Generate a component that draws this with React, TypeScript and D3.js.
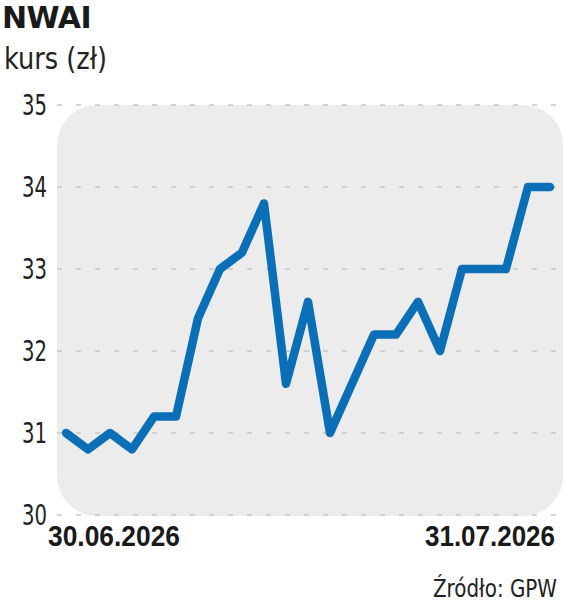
import React, { useEffect, useRef } from 'react';
import * as d3 from 'd3';

// NWAI closing price (zł), one value per session
const prices = [31.0, 30.8, 31.0, 30.8, 31.2, 31.2, 32.4, 33.0, 33.2, 33.8, 31.6, 32.6, 31.0, 31.6, 32.2, 32.2, 32.6, 32.0, 33.0, 33.0, 33.0, 34.0, 34.0];
const yTicks = [30, 31, 32, 33, 34, 35];
const xTickLabels = ['30.06.2026', '31.07.2026'];

const W = 564;
const H = 601;

const App: React.FC = () => {
  const svgRef = useRef<SVGSVGElement>(null);

  useEffect(() => {
    document.body.style.margin = '0';
    if (!svgRef.current) return;

    const svg = d3.select(svgRef.current);
    svg.selectAll('*').remove();

    const plot = { left: 57, right: 563, top: 105, bottom: 515 };
    const lightFont = '"DejaVu Sans Condensed", "DejaVu Sans", sans-serif';
    const boldFont = '"Liberation Sans", Arial, sans-serif';

    const x = d3.scaleLinear()
      .domain([0, prices.length - 1])
      .range([66, 550]);

    const y = d3.scaleLinear()
      .domain([30, 35])
      .range([plot.bottom, plot.top]);

    // title
    svg.append('text')
      .attr('x', 2)
      .attr('y', 28)
      .attr('font-family', '"DejaVu Sans", sans-serif')
      .attr('font-weight', 'bold')
      .attr('font-size', 30)
      .attr('letter-spacing', -0.5)
      .attr('fill', '#1a1a1a')
      .text('NWAI');

    svg.append('text')
      .attr('x', 4)
      .attr('y', 69)
      .attr('font-family', lightFont)
      .attr('font-size', 31)
      .attr('textLength', 103)
      .attr('lengthAdjust', 'spacingAndGlyphs')
      .attr('fill', '#222')
      .text('kurs (zł)');

    // grey plot background
    svg.append('rect')
      .attr('x', plot.left)
      .attr('y', plot.top)
      .attr('width', plot.right - plot.left)
      .attr('height', plot.bottom - plot.top + 1)
      .attr('rx', 40)
      .attr('fill', '#ececec');

    // dashed gridlines
    svg.append('g')
      .selectAll('line')
      .data(yTicks)
      .join('line')
      .attr('x1', plot.left)
      .attr('x2', W)
      .attr('y1', d => y(d))
      .attr('y2', d => y(d))
      .attr('stroke', '#c6c6c6')
      .attr('stroke-width', 1.5)
      .attr('stroke-dasharray', '5,14');

    // y labels
    svg.append('g')
      .selectAll('text')
      .data(yTicks)
      .join('text')
      .attr('x', 47)
      .attr('y', d => y(d))
      .attr('dy', '0.36em')
      .attr('text-anchor', 'end')
      .attr('font-family', lightFont)
      .attr('font-size', 29)
      .attr('textLength', 25)
      .attr('lengthAdjust', 'spacingAndGlyphs')
      .attr('fill', '#222')
      .text(d => d);

    // price line
    const line = d3.line<number>()
      .x((_, i) => x(i))
      .y(d => y(d));

    svg.append('path')
      .datum(prices)
      .attr('d', line)
      .attr('fill', 'none')
      .attr('stroke', '#0a6fb7')
      .attr('stroke-width', 8.5)
      .attr('stroke-linejoin', 'round')
      .attr('stroke-linecap', 'round');

    // x labels (first and last session)
    svg.append('text')
      .attr('x', x(0) - 18)
      .attr('y', 546)
      .attr('font-family', boldFont)
      .attr('font-weight', 'bold')
      .attr('font-size', 30)
      .attr('textLength', 132)
      .attr('lengthAdjust', 'spacingAndGlyphs')
      .attr('fill', '#1a1a1a')
      .text(xTickLabels[0]);

    svg.append('text')
      .attr('x', x(prices.length - 1) + 5)
      .attr('y', 546)
      .attr('text-anchor', 'end')
      .attr('font-family', boldFont)
      .attr('font-weight', 'bold')
      .attr('font-size', 30)
      .attr('textLength', 130)
      .attr('lengthAdjust', 'spacingAndGlyphs')
      .attr('fill', '#1a1a1a')
      .text(xTickLabels[1]);

    // source
    svg.append('text')
      .attr('x', 557)
      .attr('y', 597)
      .attr('text-anchor', 'end')
      .attr('font-family', lightFont)
      .attr('font-size', 24)
      .attr('textLength', 124)
      .attr('lengthAdjust', 'spacingAndGlyphs')
      .attr('fill', '#222')
      .text('Źródło: GPW');
  }, []);

  return <svg ref={svgRef} width={W} height={H} style={{ display: 'block', background: '#fff' }} />;
};

export default App;
